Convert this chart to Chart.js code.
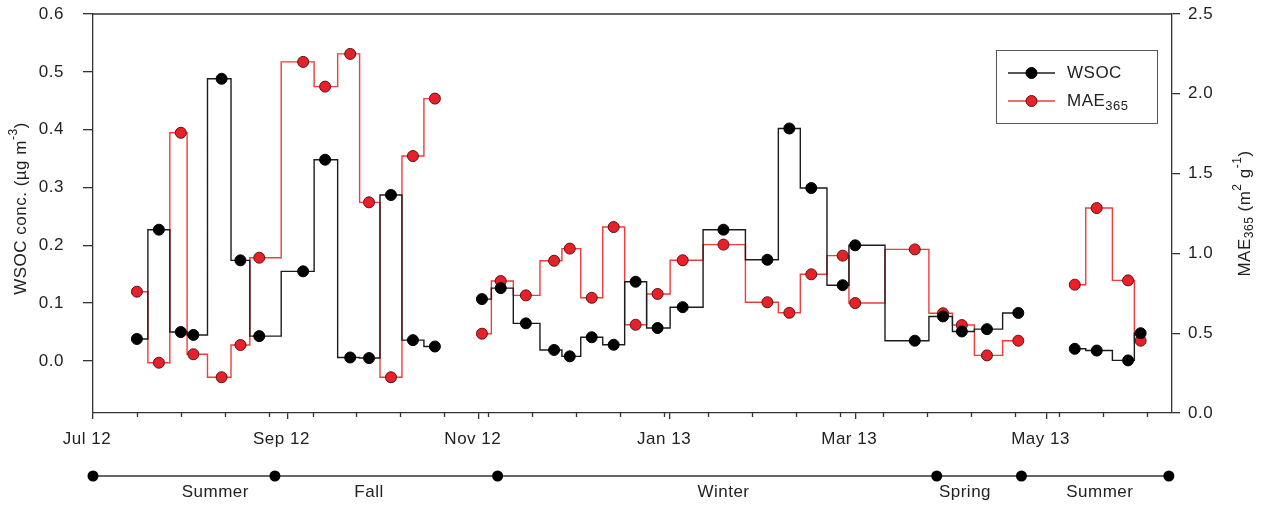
<!DOCTYPE html>
<html>
<head>
<meta charset="utf-8">
<script src="https://cdn.jsdelivr.net/npm/chart.js@4.4.1/dist/chart.umd.min.js"></script>
<style>
  html, body { margin: 0; padding: 0; background: #fff; }
  canvas { display: block; }
</style>
</head>
<body>
<canvas id="c" width="1272" height="508"></canvas>
<script>
// Sample start dates (null values mark breaks in the record)
const sampleDates = [
  '2012-07-15','2012-07-22','2012-07-29','2012-08-02','2012-08-11','2012-08-17','2012-08-23',
  '2012-09-06','2012-09-13','2012-09-21','2012-09-27','2012-10-04','2012-10-11','2012-10-18',
  '2012-10-25',
  '2012-11-02','2012-11-08','2012-11-16','2012-11-25','2012-11-30','2012-12-07','2012-12-14',
  '2012-12-21','2012-12-28','2013-01-05','2013-01-18','2013-02-01','2013-02-08','2013-02-15',
  '2013-02-25','2013-03-01','2013-03-20','2013-03-29','2013-04-04','2013-04-12','2013-04-22',
  '2013-05-01',
  '2013-05-10','2013-05-17','2013-05-27','2013-05-31'
];

// WSOC concentration (µg m-3)
const wsoc = [
  0.038, 0.227, 0.050, 0.045, 0.488, 0.174, 0.043,
  0.155, 0.348, 0.006, 0.005, 0.287, 0.036, 0.025,
  null,
  0.107, 0.126, 0.065, 0.019, 0.008, 0.041, 0.028,
  0.137, 0.057, 0.093, 0.227, 0.175, 0.402, 0.299,
  0.131, 0.200, 0.035, 0.077, 0.051, 0.055, 0.083,
  null,
  0.021, 0.018, 0.001, 0.048
];

// MAE at 365 nm (m2 g-1)
const mae365 = [
  0.76, 0.315, 1.756, 0.368, 0.224, 0.426, 0.973,
  2.20, 2.045, 2.25, 1.32, 0.224, 1.61, 1.97,
  null,
  0.497, 0.827, 0.737, 0.954, 1.03, 0.722, 1.165,
  0.553, 0.746, 0.957, 1.055, 0.694, 0.628, 0.869,
  0.986, 0.689, 1.025, 0.625, 0.551, 0.361, 0.453,
  null,
  0.804, 1.284, 0.831, 0.453
];

const monthTickDates  = ['2012-07-01','2012-09-01','2012-11-01','2013-01-01','2013-03-01','2013-05-01'];
const monthTickLabels = ['Jul 12','Sep 12','Nov 12','Jan 13','Mar 13','May 13'];
const wsocTicks = [0.0, 0.1, 0.2, 0.3, 0.4, 0.5, 0.6];
const maeTicks  = [0.0, 0.5, 1.0, 1.5, 2.0, 2.5];

const seasonBounds     = ['2012-07-01','2012-08-28','2012-11-07','2013-03-27','2013-04-23','2013-06-09'];
const seasonNames      = ['Summer','Fall','Winter','Spring','Summer'];
const seasonLabelDates = ['2012-08-09','2012-09-27','2013-01-18','2013-04-05','2013-05-18'];

const FONT = '"Liberation Sans", Arial, Helvetica, sans-serif';
const TEXT = '#222';
const AXIS = '#333';
const ORIGIN = Date.parse('2012-07-01');
const dayOf = s => (Date.parse(s) - ORIGIN) / 86400000;
const X_MAX = 344;

const toPoints = vals => sampleDates.map((d, i) => ({ x: dayOf(d), y: vals[i] }));

// minor ticks every two weeks from the first sample
const minorTickDays = [];
for (let d = dayOf('2012-07-15'); d < X_MAX; d += 14) minorTickDays.push(d);

function drawRich(ctx, parts, cx, cy, rotate) {
  ctx.save();
  ctx.translate(cx, cy);
  if (rotate) ctx.rotate(-Math.PI / 2);
  ctx.textBaseline = 'middle';
  ctx.textAlign = 'left';
  let total = 0;
  parts.forEach(p => {
    ctx.font = p.size + 'px ' + FONT;
    p.w = ctx.measureText(p.t).width;
    total += p.w;
  });
  let x = -total / 2;
  parts.forEach(p => {
    ctx.font = p.size + 'px ' + FONT;
    ctx.fillStyle = TEXT;
    ctx.fillText(p.t, x, p.dy);
    x += p.w;
  });
  ctx.restore();
}

const decor = {
  id: 'decor',
  beforeDraw(chart) {
    chart.ctx.letterSpacing = '0.5px';
  },
  afterDraw(chart) {
    const ctx = chart.ctx;
    const ca = chart.chartArea;
    const xs = chart.scales.x;
    ctx.save();
    ctx.letterSpacing = '0.5px';

    // top frame line
    ctx.strokeStyle = AXIS;
    ctx.lineWidth = 1.3;
    ctx.beginPath();
    ctx.moveTo(ca.left, ca.top);
    ctx.lineTo(ca.right, ca.top);
    ctx.stroke();

    // minor x ticks
    ctx.beginPath();
    minorTickDays.forEach(d => {
      const px = Math.round(xs.getPixelForValue(d)) + 0.5;
      ctx.moveTo(px, ca.bottom);
      ctx.lineTo(px, ca.bottom + 4);
    });
    ctx.stroke();

    // season bar
    const sy = ca.bottom + 63;
    const bx = seasonBounds.map(d => xs.getPixelForValue(dayOf(d)));
    ctx.strokeStyle = '#333';
    ctx.lineWidth = 1.5;
    ctx.beginPath();
    ctx.moveTo(bx[0], sy);
    ctx.lineTo(bx[bx.length - 1], sy);
    ctx.stroke();
    ctx.fillStyle = '#000';
    bx.forEach(px => {
      ctx.beginPath();
      ctx.arc(px, sy, 5.5, 0, Math.PI * 2);
      ctx.fill();
    });
    ctx.font = '17px ' + FONT;
    ctx.fillStyle = TEXT;
    ctx.textAlign = 'center';
    ctx.textBaseline = 'middle';
    seasonNames.forEach((n, i) => {
      ctx.fillText(n, xs.getPixelForValue(dayOf(seasonLabelDates[i])), sy + 16);
    });

    // legend
    const lx = ca.right - 176, ly = ca.top + 36, lw = 161, lh = 73;
    ctx.strokeStyle = '#555';
    ctx.lineWidth = 1;
    ctx.strokeRect(lx + 0.5, ly + 0.5, lw, lh);
    const rows = [
      { ds: chart.data.datasets[0], y: ly + 23, parts: [{ t: 'WSOC', size: 17, dy: 0 }] },
      { ds: chart.data.datasets[1], y: ly + 51, parts: [{ t: 'MAE', size: 17, dy: 0 }, { t: '365', size: 13, dy: 5 }] }
    ];
    rows.forEach(r => {
      ctx.strokeStyle = r.ds.borderColor;
      ctx.lineWidth = 1.3;
      ctx.beginPath();
      ctx.moveTo(lx + 12, r.y);
      ctx.lineTo(lx + 59, r.y);
      ctx.stroke();
      ctx.beginPath();
      ctx.arc(lx + 35.5, r.y, 5.5, 0, Math.PI * 2);
      ctx.fillStyle = r.ds.pointBackgroundColor;
      ctx.fill();
      ctx.strokeStyle = r.ds.pointBorderColor;
      ctx.lineWidth = 1;
      ctx.stroke();
      let tx = lx + 71;
      ctx.textAlign = 'left';
      ctx.textBaseline = 'middle';
      r.parts.forEach(p => {
        ctx.font = p.size + 'px ' + FONT;
        ctx.fillStyle = TEXT;
        ctx.fillText(p.t, tx, r.y + p.dy);
        tx += ctx.measureText(p.t).width;
      });
    });

    // axis titles
    drawRich(ctx, [
      { t: 'WSOC conc. (\u00b5g m', size: 17, dy: 0 },
      { t: '-3', size: 12, dy: -7 },
      { t: ')', size: 17, dy: 0 }
    ], 21, (ca.top + ca.bottom) / 2 - 5, true);

    drawRich(ctx, [
      { t: 'MAE', size: 17, dy: 0 },
      { t: '365', size: 12, dy: 5 },
      { t: ' (m', size: 17, dy: 0 },
      { t: '2', size: 12, dy: -7 },
      { t: ' g', size: 17, dy: 0 },
      { t: '-1', size: 12, dy: -7 },
      { t: ')', size: 17, dy: 0 }
    ], 1245, (ca.top + ca.bottom) / 2, true);

    ctx.restore();
  }
};

const tickFont = { family: FONT, size: 17 };

// keep the plot frame fixed: no extra room reserved for overhanging tick labels
const fixY = w => s => { s.width = w; s.paddingTop = 0; s.paddingBottom = 0; };

new Chart(document.getElementById('c'), {
  type: 'line',
  data: {
    datasets: [
      {
        label: 'WSOC',
        data: toPoints(wsoc),
        yAxisID: 'y',
        stepped: 'middle',
        spanGaps: false,
        borderColor: '#1c1c1c',
        borderWidth: 1.4,
        pointRadius: 5.5,
        pointHoverRadius: 5.5,
        pointBackgroundColor: '#000',
        pointBorderColor: '#000',
        pointBorderWidth: 1
      },
      {
        label: 'MAE365',
        data: toPoints(mae365),
        yAxisID: 'y1',
        stepped: 'middle',
        spanGaps: false,
        borderColor: '#f23b3b',
        borderWidth: 1.4,
        pointRadius: 5.5,
        pointHoverRadius: 5.5,
        pointBackgroundColor: '#e8202a',
        pointBorderColor: '#5a1515',
        pointBorderWidth: 1
      }
    ]
  },
  options: {
    responsive: false,
    animation: false,
    devicePixelRatio: 1,
    layout: { padding: { top: 14, left: 0, right: 0, bottom: 0 } },
    plugins: {
      legend: { display: false },
      tooltip: { enabled: false }
    },
    scales: {
      x: {
        type: 'linear',
        position: 'bottom',
        min: 0,
        max: X_MAX,
        afterBuildTicks: s => { s.ticks = monthTickDates.map(d => ({ value: dayOf(d) })); },
        afterFit: s => { s.height = 95; s.paddingLeft = 0; s.paddingRight = 0; },
        ticks: {
          callback: (v, i) => monthTickLabels[i],
          font: tickFont,
          color: TEXT,
          padding: 10,
          labelOffset: -6,
          maxRotation: 0,
          autoSkip: false
        },
        grid: { drawOnChartArea: false, drawTicks: true, tickLength: 6, color: AXIS, lineWidth: 1.3 },
        border: { display: true, color: AXIS, width: 1.3 }
      },
      y: {
        type: 'linear',
        position: 'left',
        min: -0.09,
        max: 0.6,
        afterBuildTicks: s => { s.ticks = wsocTicks.map(v => ({ value: v })); },
        afterFit: fixY(93),
        ticks: {
          callback: v => v.toFixed(1),
          font: tickFont,
          color: TEXT,
          padding: 19
        },
        grid: { drawOnChartArea: false, drawTicks: true, tickLength: 10, color: AXIS, lineWidth: 1.3 },
        border: { display: true, color: AXIS, width: 1.3 }
      },
      y1: {
        type: 'linear',
        position: 'right',
        min: 0,
        max: 2.5,
        afterBuildTicks: s => { s.ticks = maeTicks.map(v => ({ value: v })); },
        afterFit: fixY(100),
        ticks: {
          callback: v => v.toFixed(1),
          font: tickFont,
          color: TEXT,
          padding: 8
        },
        grid: { drawOnChartArea: false, drawTicks: true, tickLength: 8, color: AXIS, lineWidth: 1.3 },
        border: { display: true, color: AXIS, width: 1.3 }
      }
    }
  },
  plugins: [decor]
});
</script>
</body>
</html>
